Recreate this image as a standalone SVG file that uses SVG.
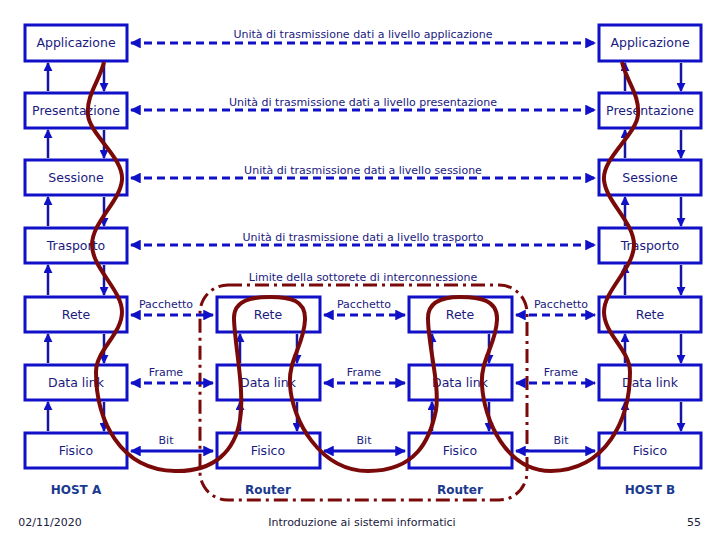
<svg xmlns="http://www.w3.org/2000/svg" width="720" height="540" viewBox="0 0 720 540">
<defs>
<marker id="a" viewBox="0 0 10 10" refX="9" refY="5" markerWidth="3.6" markerHeight="3.6" orient="auto-start-reverse"><path d="M0,0L10,5L0,10z" fill="#1010c8"/></marker>
<style>
.b{fill:#fff;stroke:#1010c8;stroke-width:3}
.t{font-family:"DejaVu Sans",sans-serif;font-size:12.5px;fill:#1a1a80;text-anchor:middle}
.s{font-family:"DejaVu Sans",sans-serif;font-size:11px;fill:#1a1a80;text-anchor:middle}
.h{font-family:"DejaVu Sans",sans-serif;font-size:12px;font-weight:bold;fill:#1a3a90;text-anchor:middle}
.d{stroke:#1010c8;stroke-width:3;stroke-dasharray:8,5;fill:none;marker-start:url(#a);marker-end:url(#a)}
.l{stroke:#1010c8;stroke-width:3;fill:none;marker-start:url(#a);marker-end:url(#a)}
.v{stroke:#1515a0;stroke-width:2.5;fill:none;marker-end:url(#a)}
</style>
</defs>
<rect width="720" height="540" fill="#fff"/>
<rect x="200" y="285" width="327" height="215" rx="28" fill="none" stroke="#7a0a0a" stroke-width="3" stroke-dasharray="14,5,3,5"/>
<g id="hostA">
<rect class="b" x="25" y="25" width="102" height="36"/><text class="t" x="76" y="47">Applicazione</text>
<rect class="b" x="25" y="93" width="102" height="35"/><text class="t" x="76" y="115">Presentazione</text>
<rect class="b" x="25" y="160" width="102" height="35"/><text class="t" x="76" y="182">Sessione</text>
<rect class="b" x="25" y="228" width="102" height="35"/><text class="t" x="76" y="250">Trasporto</text>
<rect class="b" x="25" y="297" width="102" height="35"/><text class="t" x="76" y="319">Rete</text>
<rect class="b" x="25" y="365" width="102" height="35"/><text class="t" x="76" y="387">Data link</text>
<rect class="b" x="25" y="433" width="102" height="35"/><text class="t" x="76" y="455">Fisico</text>
<text class="h" x="76" y="494">HOST A</text>
</g>
<g id="router1">
<rect class="b" x="217" y="297" width="103" height="35"/><text class="t" x="268" y="319">Rete</text>
<rect class="b" x="217" y="365" width="103" height="35"/><text class="t" x="268" y="387">Data link</text>
<rect class="b" x="217" y="433" width="103" height="35"/><text class="t" x="268" y="455">Fisico</text>
<text class="h" x="268" y="494">Router</text>
</g>
<g id="router2">
<rect class="b" x="409" y="297" width="103" height="35"/><text class="t" x="460" y="319">Rete</text>
<rect class="b" x="409" y="365" width="103" height="35"/><text class="t" x="460" y="387">Data link</text>
<rect class="b" x="409" y="433" width="103" height="35"/><text class="t" x="460" y="455">Fisico</text>
<text class="h" x="460" y="494">Router</text>
</g>
<g id="hostB">
<rect class="b" x="599" y="25" width="102" height="36"/><text class="t" x="650" y="47">Applicazione</text>
<rect class="b" x="599" y="93" width="102" height="35"/><text class="t" x="650" y="115">Presentazione</text>
<rect class="b" x="599" y="160" width="102" height="35"/><text class="t" x="650" y="182">Sessione</text>
<rect class="b" x="599" y="228" width="102" height="35"/><text class="t" x="650" y="250">Trasporto</text>
<rect class="b" x="599" y="297" width="102" height="35"/><text class="t" x="650" y="319">Rete</text>
<rect class="b" x="599" y="365" width="102" height="35"/><text class="t" x="650" y="387">Data link</text>
<rect class="b" x="599" y="433" width="102" height="35"/><text class="t" x="650" y="455">Fisico</text>
<text class="h" x="650" y="494">HOST B</text>
</g>
<g id="connectors">
<line class="d" x1="131" y1="43" x2="595" y2="43"/>
<line class="d" x1="131" y1="110" x2="595" y2="110"/>
<line class="d" x1="131" y1="178" x2="595" y2="178"/>
<line class="d" x1="131" y1="245" x2="595" y2="245"/>
<line class="d" x1="131" y1="315" x2="213" y2="315"/>
<line class="d" x1="324" y1="315" x2="405" y2="315"/>
<line class="d" x1="516" y1="315" x2="595" y2="315"/>
<line class="d" x1="131" y1="383" x2="213" y2="383"/>
<line class="d" x1="324" y1="383" x2="405" y2="383"/>
<line class="d" x1="516" y1="383" x2="595" y2="383"/>
<line class="l" x1="131" y1="451" x2="213" y2="451"/>
<line class="l" x1="324" y1="451" x2="405" y2="451"/>
<line class="l" x1="516" y1="451" x2="595" y2="451"/>
<path class="v" d="M48,91V63"/><path class="v" d="M48,158V130"/><path class="v" d="M48,226V197"/><path class="v" d="M48,295V265"/><path class="v" d="M48,363V334"/><path class="v" d="M48,431V402"/>
<path class="v" d="M104,63V91"/><path class="v" d="M104,130V158"/><path class="v" d="M104,197V226"/><path class="v" d="M104,265V295"/><path class="v" d="M104,334V363"/><path class="v" d="M104,402V431"/>
<path class="v" d="M625,91V63"/><path class="v" d="M625,158V130"/><path class="v" d="M625,226V197"/><path class="v" d="M625,295V265"/><path class="v" d="M625,363V334"/><path class="v" d="M625,431V402"/>
<path class="v" d="M681,63V91"/><path class="v" d="M681,130V158"/><path class="v" d="M681,197V226"/><path class="v" d="M681,265V295"/><path class="v" d="M681,334V363"/><path class="v" d="M681,402V431"/>
<path class="v" d="M240,363V334"/><path class="v" d="M240,431V402"/><path class="v" d="M432,363V334"/><path class="v" d="M432,431V402"/>
<path class="v" d="M297,334V363"/><path class="v" d="M297,402V431"/><path class="v" d="M489,334V363"/><path class="v" d="M489,402V431"/>
</g>
<path d="M104,62 C100,80 86,95 88,115 S124,158 122,180 S92,222 92,245 S122,290 122,312 S96,350 96,372 C96,420 120,470 175,471 C215,472 235,450 240,420 C245,390 234,340 234,318 C234,300 252,297 270,297 C290,297 306,300 305,320 C304,345 288,360 290,385 C292,420 320,471 368,471 C416,471 430,440 436,410 C440,385 428,345 428,318 C428,300 445,297 460,297 C480,297 498,300 497,320 C496,345 480,360 482,385 C484,420 506,471 551,471 C606,470 630,420 630,372 C630,350 604,334 604,312 C604,290 634,268 634,245 C634,222 606,202 604,180 C602,158 636,135 638,115 C640,95 626,80 622,62" fill="none" stroke="#7a0a0a" stroke-width="4"/>
<g id="labels">
<text class="s" x="363" y="38">Unità di trasmissione dati a livello applicazione</text>
<text class="s" x="363" y="106">Unità di trasmissione dati a livello presentazione</text>
<text class="s" x="363" y="174">Unità di trasmissione dati a livello sessione</text>
<text class="s" x="363" y="241">Unità di trasmissione dati a livello trasporto</text>
<text class="s" x="363" y="281">Limite della sottorete di interconnessione</text>
<text class="s" x="166" y="308">Pacchetto</text><text class="s" x="364" y="308">Pacchetto</text><text class="s" x="561" y="308">Pacchetto</text>
<text class="s" x="166" y="376">Frame</text><text class="s" x="364" y="376">Frame</text><text class="s" x="561" y="376">Frame</text>
<text class="s" x="166" y="444">Bit</text><text class="s" x="364" y="444">Bit</text><text class="s" x="561" y="444">Bit</text>
<text class="s" x="50" y="526" style="fill:#202040">02/11/2020</text>
<text class="s" x="362" y="526" style="fill:#202040">Introduzione ai sistemi informatici</text>
<text class="s" x="694" y="526" style="fill:#202040">55</text>
</g>
</svg>
